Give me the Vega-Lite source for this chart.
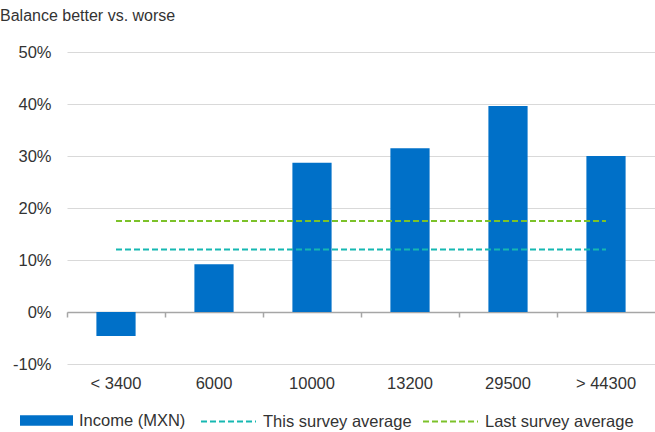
{
  "$schema": "https://vega.github.io/schema/vega-lite/v6.json",
  "width": 588,
  "height": 312,
  "autosize": {"type": "none"},
  "padding": {"left": 67, "top": 52, "right": 0, "bottom": 68},
  "background": "white",
  "config": {
    "view": {"stroke": null},
    "font": "Liberation Sans",
    "axis": {"labelFont": "Liberation Sans", "labelColor": "#333333", "labelFontSize": 16.5},
    "legend": {"labelFont": "Liberation Sans", "labelColor": "#333333", "labelFontSize": 16.5}
  },
  "title": {
    "text": "Balance better vs. worse",
    "anchor": "start",
    "frame": "group",
    "dx": -67,
    "offset": 20,
    "fontSize": 16,
    "fontWeight": "normal",
    "color": "#333333",
    "font": "Liberation Sans"
  },
  "datasets": {
    "bars": [
      {"income": "< 3400", "value": -0.046},
      {"income": "6000", "value": 0.092},
      {"income": "10000", "value": 0.287},
      {"income": "13200", "value": 0.315},
      {"income": "29500", "value": 0.396},
      {"income": "> 44300", "value": 0.30}
    ],
    "lines": [
      {"income": "< 3400", "series": "This survey average", "value": 0.12},
      {"income": "6000", "series": "This survey average", "value": 0.12},
      {"income": "10000", "series": "This survey average", "value": 0.12},
      {"income": "13200", "series": "This survey average", "value": 0.12},
      {"income": "29500", "series": "This survey average", "value": 0.12},
      {"income": "> 44300", "series": "This survey average", "value": 0.12},
      {"income": "< 3400", "series": "Last survey average", "value": 0.175},
      {"income": "6000", "series": "Last survey average", "value": 0.175},
      {"income": "10000", "series": "Last survey average", "value": 0.175},
      {"income": "13200", "series": "Last survey average", "value": 0.175},
      {"income": "29500", "series": "Last survey average", "value": 0.175},
      {"income": "> 44300", "series": "Last survey average", "value": 0.175}
    ]
  },
  "layer": [
    {
      "data": {"name": "bars"},
      "mark": {"type": "bar", "width": {"band": 0.4}},
      "encoding": {
        "x": {
          "field": "income", "type": "nominal", "sort": null,
          "scale": {"paddingInner": 0, "paddingOuter": 0},
          "axis": {
            "title": null, "labelAngle": 0, "offset": -52,
            "domainColor": "#a6a6a6", "domainWidth": 1.5,
            "tickColor": "#a6a6a6", "tickSize": 5, "tickWidth": 1.5,
            "bandPosition": 0, "labelPadding": 58, "grid": false
          }
        },
        "y": {
          "field": "value", "type": "quantitative",
          "scale": {"domain": [-0.1, 0.5], "nice": false},
          "axis": {
            "title": null, "values": [-0.1, 0, 0.1, 0.2, 0.3, 0.4, 0.5],
            "labelExpr": "round(datum.value * 100) + '%'",
            "domain": false, "ticks": false, "labelPadding": 16,
            "gridColor": "#d9d9d9", "gridWidth": 1.2
          }
        },
        "fill": {
          "datum": "Income (MXN)",
          "scale": {"range": ["#0070C8"]},
          "legend": {
            "title": null, "orient": "none", "legendX": -47, "legendY": 342,
            "symbolType": "M-1,-0.2H1V0.2H-1Z", "symbolSize": 2809,
            "symbolStrokeWidth": 0, "labelOffset": 6, "padding": 0
          }
        }
      }
    },
    {
      "data": {"name": "lines"},
      "mark": {"type": "line", "strokeDash": [6, 3], "strokeWidth": 2},
      "encoding": {
        "x": {"field": "income", "type": "nominal", "sort": null},
        "y": {"field": "value", "type": "quantitative"},
        "stroke": {
          "field": "series", "type": "nominal",
          "sort": ["This survey average", "Last survey average"],
          "scale": {"domain": ["This survey average", "Last survey average"], "range": ["#16B8B2", "#7CC22A"]},
          "legend": {
            "title": null, "orient": "none", "legendX": 133, "legendY": 341,
            "direction": "horizontal",
            "symbolType": "stroke", "symbolSize": 3025, "symbolStrokeWidth": 2,
            "symbolDash": [6, 3], "labelOffset": 6, "columnPadding": 7, "padding": 0
          }
        }
      }
    }
  ]
}
